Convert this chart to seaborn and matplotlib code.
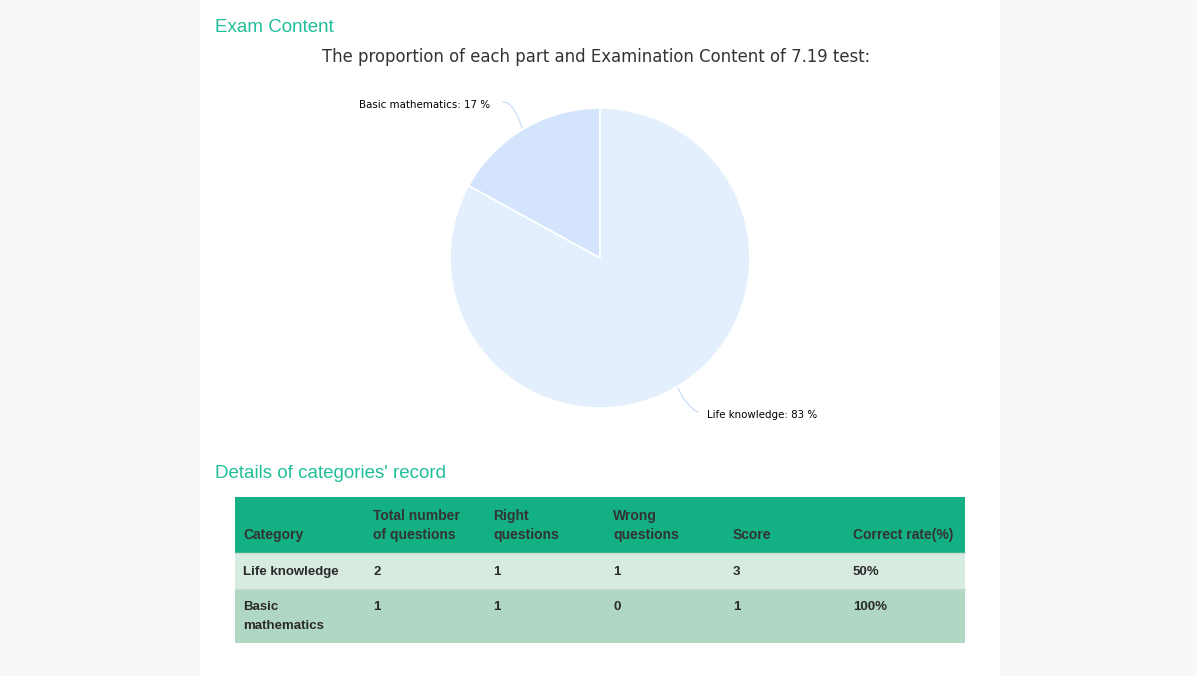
import matplotlib
matplotlib.use("Agg")
import matplotlib.pyplot as plt
from matplotlib.patches import Rectangle
import seaborn as sns

# ---- data ----
pie_labels = ["Basic mathematics", "Life knowledge"]
pie_values = [17, 83]
pie_colors = ["#d3e4fc", "#e3effd"]

table_header = ["Category", "Total number\nof questions", "Right\nquestions",
                "Wrong\nquestions", "Score", "Correct rate(%)"]
table_categories = ["Life knowledge", "Basic\nmathematics"]
total_questions = [2, 1]
right_questions = [1, 1]
wrong_questions = [1, 0]
scores = [3, 1]
correct_rates = ["50%", "100%"]

sns.set_theme(style="white")
plt.rcParams['font.family'] = ['DejaVu Sans']

W, H = 1197, 676
fig = plt.figure(figsize=(W / 100, H / 100), dpi=100)
fig.patch.set_facecolor("#f7f8fa")

# overlay axes in pixel coordinates
bg = fig.add_axes([0, 0, 1, 1])
bg.set_xlim(0, W)
bg.set_ylim(H, 0)
bg.axis("off")
bg.add_patch(Rectangle((200, 0), 800, H, facecolor="white", edgecolor="none", zorder=0))

green_title = "#1fbf9a"
bg.text(215, 27, "Exam Content", color=green_title, fontsize=13.5,
        family="Liberation Sans", va="center", ha="left")
bg.text(596, 57, "The proportion of each part and Examination Content of 7.19 test:",
        color="#333333", fontsize=11.9, va="center", ha="center")
bg.text(215, 474, "Details of categories' record", color=green_title, fontsize=13.5,
        family="Liberation Sans", va="center", ha="left")

# ---- pie ----
cx, cy, r = 600, 258, 150
pax = fig.add_axes([(cx - r) / W, (H - cy - r) / H, 2 * r / W, 2 * r / H])
wedges, _ = pax.pie(pie_values, colors=pie_colors, startangle=90, counterclock=True,
                    wedgeprops=dict(edgecolor="white", linewidth=1.2))
pax.set_xlim(-1, 1)
pax.set_ylim(-1, 1)
pax.set_aspect("equal")
pax.axis("off")

# labels with leader lines
bg.plot([503, 508, 513, 518, 522], [102, 103, 108, 117, 128], color="#cfe0f7", lw=1, zorder=3)
bg.text(490, 105, f"{pie_labels[0]}: {pie_values[0]} %", ha="right", va="center",
        fontsize=7.4, color="#000000")
bg.plot([678, 683, 689, 694, 698], [388, 398, 405, 410, 412], color="#cfe0f7", lw=1, zorder=3)
bg.text(707, 415, f"{pie_labels[1]}: {pie_values[1]} %", ha="left", va="center",
        fontsize=7.4, color="#000000")

# ---- table ----
tx0, tx1 = 235, 965
col_x = [243, 373, 493, 613, 733, 853]
bg.add_patch(Rectangle((tx0, 497), tx1 - tx0, 56, facecolor="#12b083", edgecolor="none"))
bg.add_patch(Rectangle((tx0, 553), tx1 - tx0, 36, facecolor="#d8ebe1", edgecolor="none"))
bg.add_patch(Rectangle((tx0, 589), tx1 - tx0, 54, facecolor="#b0d7c4", edgecolor="none"))
bg.plot([tx0, tx1], [553, 553], color="#cfd8d3", lw=1)
bg.plot([tx0, tx1], [589, 589], color="#cfd8d3", lw=1)

tfont = dict(family="Liberation Sans", fontsize=10, color="#333333", fontweight="bold")
for x, h in zip(col_x, table_header):
    lines = h.split("\n")
    if len(lines) == 2:
        bg.text(x, 516, lines[0], ha="left", va="center", **tfont)
        bg.text(x, 535, lines[1], ha="left", va="center", **tfont)
    else:
        bg.text(x, 535, h, ha="left", va="center", **tfont)

rows_y = [572, 607]
for i in range(len(table_categories)):
    vals = [table_categories[i], total_questions[i], right_questions[i],
            wrong_questions[i], scores[i], correct_rates[i]]
    for x, v in zip(col_x, vals):
        parts = str(v).split("\n")
        for k, p in enumerate(parts):
            bg.text(x, rows_y[i] + 19 * k, p, ha="left", va="center",
                    family="Liberation Sans", fontsize=9.5, color="#2a2a2a",
                    fontweight="bold")

fig.savefig("out.png", dpi=100, facecolor=fig.get_facecolor())
